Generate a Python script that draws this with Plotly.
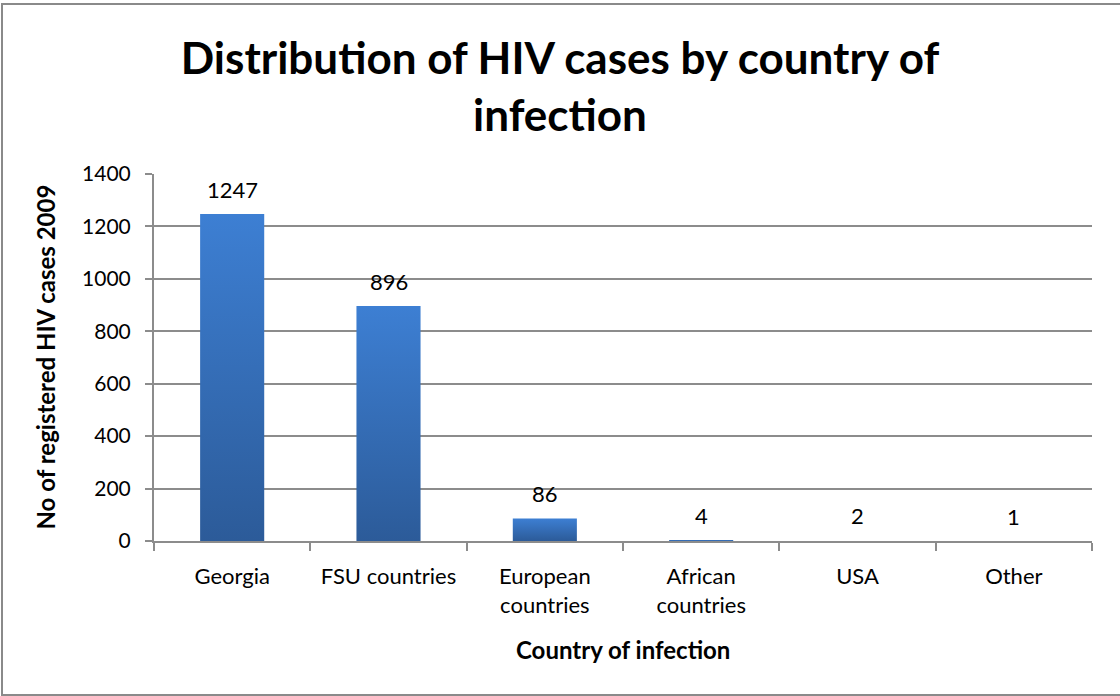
import plotly.graph_objects as go

# HIV cases registered in 2009, by country of infection
categories = ["Georgia", "FSU countries", "European<br>countries", "African<br>countries", "USA", "Other"]
cases = [1247, 896, 86, 4, 2, 1]
y_ticks = [0, 200, 400, 600, 800, 1000, 1200, 1400]

W, H = 1120, 696
M = dict(l=154, r=28, t=174, b=155)
BAR_HALF = 0.205          # half bar width in category units
BAR_TOP = "#3d7fd3"
BAR_BOTTOM = "#2c5b99"
GRID = "#8c8c8c"
FONT = "Lato"

fig = go.Figure()

# Each bar is a filled polygon so it can carry a vertical gradient
for i, v in enumerate(cases):
    fig.add_trace(go.Scatter(
        x=[i - BAR_HALF, i + BAR_HALF, i + BAR_HALF, i - BAR_HALF, i - BAR_HALF],
        y=[0, 0, v, v, 0],
        mode="lines",
        line=dict(width=0, color=BAR_BOTTOM),
        fill="toself",
        fillgradient=dict(type="vertical",
                          colorscale=[[0, BAR_BOTTOM], [1, BAR_TOP]]),
        hoverinfo="skip",
        showlegend=False,
    ))
    # value label above each bar
    fig.add_annotation(x=i, y=v, xref="x", yref="y", text=str(v),
                       showarrow=False, yanchor="bottom", yshift=9,
                       font=dict(family=FONT, size=22, color="#000000"))

fig.update_layout(
    width=W, height=H,
    margin=M,
    paper_bgcolor="white", plot_bgcolor="white",
    showlegend=False,
    title=dict(
        text="<b>Distribution of HIV cases by country of<br>infection</b>",
        x=0.5, xref="container", xanchor="center",
        y=1 - 74 / H, yref="container", yanchor="top",
        font=dict(family=FONT, size=44, color="#000000"),
    ),
    xaxis=dict(
        range=[-0.5, len(categories) - 0.5],
        tickmode="array",
        tickvals=list(range(len(categories))),
        ticktext=categories,
        ticks="",
        ticklabelstandoff=15,
        showgrid=False, zeroline=False,
        showline=True, linecolor=GRID, linewidth=2,
        tickfont=dict(family=FONT, size=22, color="#000000"),
        minor=dict(tickmode="array",
                   tickvals=[k - 0.5 for k in range(len(categories) + 1)],
                   ticks="outside", ticklen=8, tickwidth=2, tickcolor=GRID,
                   showgrid=False),
    ),
    yaxis=dict(
        range=[0, 1400],
        tickmode="array", tickvals=y_ticks,
        ticks="outside", ticklen=7, tickwidth=2, tickcolor=GRID,
        showgrid=True, gridcolor=GRID, gridwidth=2,
        zeroline=False,
        showline=True, linecolor=GRID, linewidth=2,
        tickfont=dict(family=FONT, size=21, color="#000000"),
        ticklabelstandoff=10,
    ),
)

# axis titles
fig.add_annotation(text="<b>Country of infection</b>", xref="paper", yref="paper",
                   x=0.5, y=0, yanchor="middle", yshift=-108, showarrow=False,
                   font=dict(family=FONT, size=24, color="#000000"))
fig.add_annotation(text="<b>No of registered HIV cases 2009</b>", xref="paper", yref="paper",
                   x=0, y=0.5, xanchor="center", yanchor="middle", xshift=-109,
                   textangle=-90, showarrow=False,
                   font=dict(family=FONT, size=24, color="#000000"))

# chart-area frame
pw = W - M["l"] - M["r"]
ph = H - M["t"] - M["b"]
fig.add_shape(type="rect", xref="paper", yref="paper",
              x0=(2 - M["l"]) / pw, x1=(W + 10 - M["l"]) / pw,
              y0=(H - 695 - M["b"]) / ph, y1=(H - 4 - M["b"]) / ph,
              line=dict(color="#8a8a8a", width=2), layer="below")

fig.write_html("out.html")
